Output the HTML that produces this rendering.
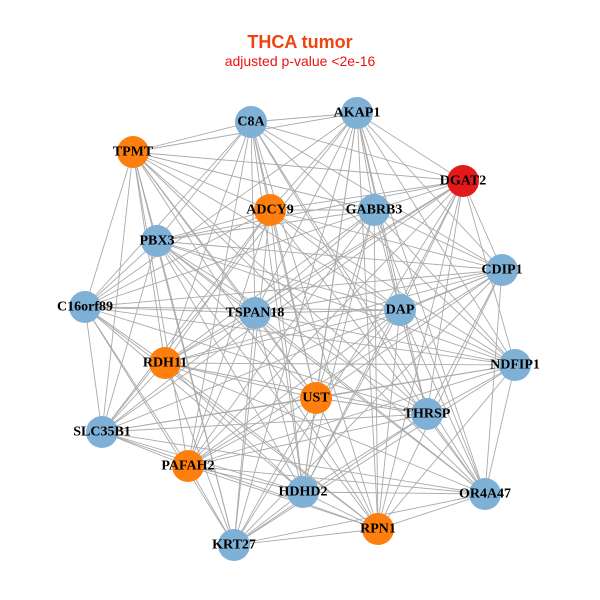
<!DOCTYPE html>
<html><head><meta charset="utf-8"><style>
html,body{margin:0;padding:0;background:#fff;}
svg{display:block;}
text.l{font-family:"Liberation Serif",serif;font-weight:bold;font-size:14px;fill:#000;text-anchor:middle;dominant-baseline:central;}
</style></head><body>
<svg id="s" width="600" height="600" viewBox="0 0 600 600">
<rect width="600" height="600" fill="#fff"/>
<text x="300" y="48" text-anchor="middle" font-family="Liberation Sans,sans-serif" font-weight="bold" font-size="18" fill="#ee4411">THCA tumor</text>
<text x="300" y="66" text-anchor="middle" font-family="Liberation Sans,sans-serif" font-size="14" fill="#ee1111">adjusted p-value &lt;2e-16</text>
<g id="edges" stroke="#aaaaaa" stroke-width="0.9"></g>
<g id="nodes"></g>
<g>
<text class="l" x="251" y="122">C8A</text>
<text class="l" x="357" y="113">AKAP1</text>
<text class="l" x="133" y="152">TPMT</text>
<text class="l" x="463" y="181">DGAT2</text>
<text class="l" x="270" y="210">ADCY9</text>
<text class="l" x="374" y="210">GABRB3</text>
<text class="l" x="157" y="241">PBX3</text>
<text class="l" x="502" y="270">CDIP1</text>
<text class="l" x="85" y="307">C16orf89</text>
<text class="l" x="255" y="313">TSPAN18</text>
<text class="l" x="400" y="310">DAP</text>
<text class="l" x="165" y="363">RDH11</text>
<text class="l" x="515" y="365">NDFIP1</text>
<text class="l" x="316" y="398">UST</text>
<text class="l" x="427" y="414">THRSP</text>
<text class="l" x="102" y="432">SLC35B1</text>
<text class="l" x="188" y="466">PAFAH2</text>
<text class="l" x="303" y="492">HDHD2</text>
<text class="l" x="485" y="494">OR4A47</text>
<text class="l" x="378" y="529">RPN1</text>
<text class="l" x="234" y="545">KRT27</text>
</g>
</svg>
<script>
var N=[[251,122,'b'],[357,113,'b'],[133,152,'o'],[463,181,'r'],[270,210,'o'],[374,210,'b'],[157,241,'b'],[502,270,'b'],[85,307,'b'],[255,313,'b'],[400,310,'b'],[165,363,'o'],[515,365,'b'],[316,398,'o'],[427,414,'b'],[102,432,'b'],[188,466,'o'],[303,492,'b'],[485,494,'b'],[378,529,'o'],[234,545,'b']];
var C={b:'#7fb0d6',o:'#ff7f0e',r:'#e31a1c'};
var ns='http://www.w3.org/2000/svg',E=document.getElementById('edges'),G=document.getElementById('nodes');
for(var i=0;i<N.length;i++)for(var j=i+1;j<N.length;j++){
 if((i*7+j*3)%5==0)continue;
 var l=document.createElementNS(ns,'line');
 l.setAttribute('x1',N[i][0]);l.setAttribute('y1',N[i][1]);l.setAttribute('x2',N[j][0]);l.setAttribute('y2',N[j][1]);E.appendChild(l);}
N.forEach(function(n){var c=document.createElementNS(ns,'circle');c.setAttribute('cx',n[0]);c.setAttribute('cy',n[1]);c.setAttribute('r',16);c.setAttribute('fill',C[n[2]]);G.appendChild(c);});
</script>
</body></html>
